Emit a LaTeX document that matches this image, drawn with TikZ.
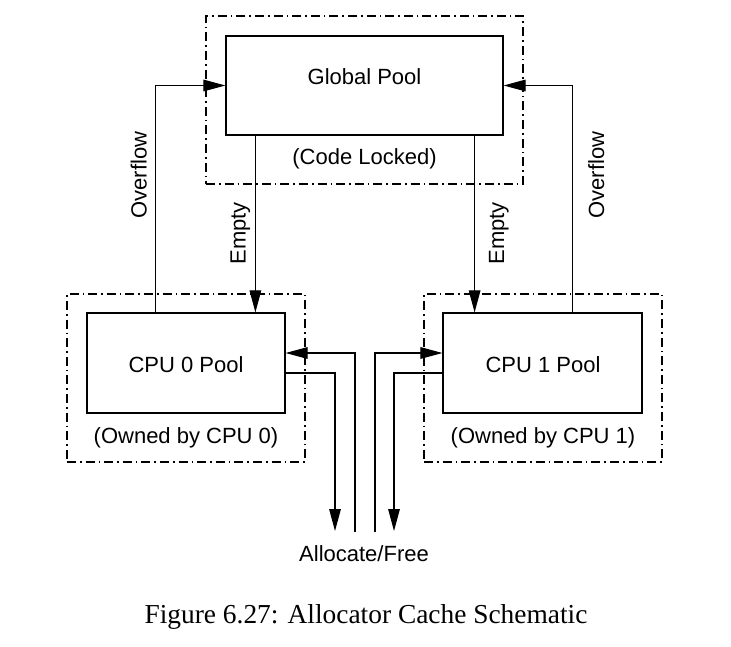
\documentclass[tikz,border=0pt]{standalone}
\usepackage{fontspec}
\setmainfont{Liberation Serif}
\newfontfamily\hv{Liberation Sans}
\usetikzlibrary{arrows.meta,calc}
\begin{document}
\begin{tikzpicture}[x=0.5pt,y=-0.5pt,
  box/.style={draw, line width=0.6pt, inner sep=0pt},
  outerbox/.style={draw, line width=0.55pt, inner sep=0pt, dash pattern=on 4.5pt off 2pt on 0.8pt off 2pt},
  lbl/.style={font=\hv\fontsize{11}{13}\selectfont, inner sep=0pt, anchor=base},
  vlbl/.style={lbl, rotate=90},
  conn/.style={line width=0.55pt, -{Triangle[length=11pt,width=5.8pt]}},
  plain/.style={line width=0.55pt},
  captxt/.style={font=\fontsize{13.7}{16}\selectfont, inner sep=0pt, anchor=base}]
\useasboundingbox (0,0) rectangle (731,646);
% outer dash-dot regions
\node[outerbox, minimum width=158.5pt, minimum height=84pt] (gpo) at (364.5,100) {};
\node[outerbox, minimum width=119pt, minimum height=84pt] (c0o) at (186,378) {};
\node[outerbox, minimum width=119pt, minimum height=84pt] (c1o) at (543,378) {};
% pools
\node[box, minimum width=138.5pt, minimum height=49.5pt] (gp) at (364.5,85.5) {};
\node[box, minimum width=99pt, minimum height=50pt] (c0) at (186,363) {};
\node[box, minimum width=99.5pt, minimum height=50pt] (c1) at (542.5,363) {};
% texts
\node[lbl] (gpt) at (364.5,84.5) {Global Pool};
\node[lbl] (gpl) at (364.5,165) {(Code Locked)};
\node[lbl] (c0t) at (186,372.5) {CPU 0 Pool};
\node[lbl] (c0l) at (186,443.5) {(Owned by CPU 0)};
\node[lbl] (c1t) at (543,372.5) {CPU 1 Pool};
\node[lbl] (c1l) at (543,443.5) {(Owned by CPU 1)};
\node[lbl] (af) at (364,561.5) {Allocate/Free};
\node[vlbl] (ovl) at (146.5,175) {Overflow};
\node[vlbl] (eml) at (245.5,233.5) {Empty};
\node[vlbl] (emr) at (504,233.5) {Empty};
\node[vlbl] (ovr) at (604,175) {Overflow};
\node[captxt] (cap) at (366,623) {Figure 6.27: Allocator Cache Schematic};
% free ends
\coordinate (f0) at (355,532);
\coordinate (t0) at (335,531);
\coordinate (f1) at (375,532);
\coordinate (t1) at (394,531);
% connectors
\draw[conn] ($(c0.north west)+(69,0)$) |- (gp.west);
\draw[conn] ($(gp.south west)+(30,0)$) coordinate (e0) -- (e0 |- c0.north);
\draw[conn] ($(gp.south east)+(-29,0)$) coordinate (e1) -- (e1 |- c1.north);
\draw[conn] ($(c1.north west)+(130,0)$) |- (gp.east);
\draw[conn] (f0) |- ($(c0.east)+(0,-10)$);
\draw[conn] ($(c0.east)+(0,10)$) -| (t0);
\draw[conn] (f1) |- ($(c1.west)+(0,-10)$);
\draw[conn] ($(c1.west)+(0,10)$) -| (t1);
\end{tikzpicture}
\end{document}
